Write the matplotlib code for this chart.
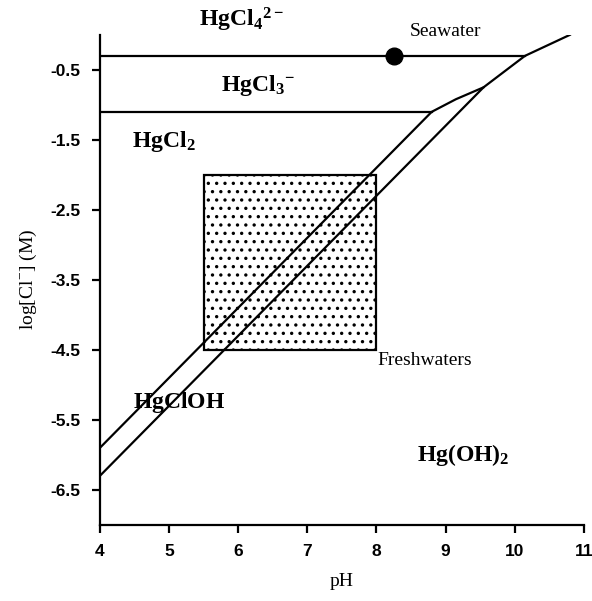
import matplotlib
matplotlib.use('Agg')
import matplotlib.pyplot as plt
from matplotlib.patches import Rectangle

plt.rcParams['font.family'] = 'Liberation Serif'
plt.rcParams['mathtext.fontset'] = 'custom'
plt.rcParams['mathtext.rm'] = 'Liberation Serif'
plt.rcParams['mathtext.bf'] = 'Liberation Serif:bold'
plt.rcParams['hatch.linewidth'] = 1.2

# Phase boundaries (pH, log[Cl-])
hgcl4_hgcl3_x = [4.0, 10.15]
hgcl4_hgcl3_y = [-0.3, -0.3]
hgcl3_hgcl2_x = [4.0, 8.8]
hgcl3_hgcl2_y = [-1.1, -1.1]
hgcl2_hgcloh_x = [4.0, 8.8, 9.15, 9.55]
hgcl2_hgcloh_y = [-5.9, -1.1, -0.92, -0.75]
hgcloh_hgoh2_x = [4.0, 9.55, 10.15, 10.8]
hgcloh_hgoh2_y = [-6.3, -0.75, -0.3, 0.0]

# Freshwater range box and seawater point
fresh_ph = [5.5, 8.0]
fresh_cl = [-4.5, -2.0]
sea_ph = 8.25
sea_cl = -0.3

# Species labels
species = [r'$\mathbf{HgCl_4{}^{2-}}$', r'$\mathbf{HgCl_3{}^{-}}$', r'$\mathbf{HgCl_2}$',
           r'$\mathbf{HgClOH}$', r'$\mathbf{Hg(OH)_2}$']
species_x = [6.05, 6.28, 4.92, 5.15, 9.25]
species_y = [0.22, -0.72, -1.52, -5.25, -6.0]

xticks = [4, 5, 6, 7, 8, 9, 10, 11]
yticks = [-0.5, -1.5, -2.5, -3.5, -4.5, -5.5, -6.5]

fig = plt.figure(figsize=(5.92, 6.01), dpi=100)
ax = fig.add_axes([0.169, 0.127, 0.817, 0.815])

lw = 1.6
ax.plot(hgcl4_hgcl3_x, hgcl4_hgcl3_y, color='black', lw=lw)
ax.plot(hgcl3_hgcl2_x, hgcl3_hgcl2_y, color='black', lw=lw)
ax.plot(hgcl2_hgcloh_x, hgcl2_hgcloh_y, color='black', lw=lw)
ax.plot(hgcloh_hgoh2_x, hgcloh_hgoh2_y, color='black', lw=lw)

# Freshwater box with dot pattern
ax.add_patch(Rectangle((fresh_ph[0], fresh_cl[0]), fresh_ph[1] - fresh_ph[0],
                       fresh_cl[1] - fresh_cl[0], facecolor='white',
                       edgecolor='black', hatch='..', lw=lw, zorder=0))

ax.plot(sea_ph, sea_cl, 'o', color='black', markersize=12, zorder=5)
ax.text(9.0, 0.05, 'Seawater', fontsize=14, ha='center', va='center')
ax.text(8.02, -4.66, 'Freshwaters', fontsize=14, ha='left', va='center')

for label, x, y in zip(species, species_x, species_y):
    ax.text(x, y, label, fontsize=17, ha='center', va='center', clip_on=False)

ax.set_xlim(4, 11)
ax.set_ylim(-7, 0)
ax.set_xticks(xticks)
ax.set_yticks(yticks)
ax.set_xticklabels([str(t) for t in xticks], fontfamily='Liberation Sans',
                   fontweight='bold', fontsize=12.5)
ax.set_yticklabels([str(t) for t in yticks], fontfamily='Liberation Sans',
                   fontweight='bold', fontsize=12.5)
ax.tick_params(direction='out', length=6, width=1.6, pad=8)

for side in ['top', 'right']:
    ax.spines[side].set_visible(False)
for side in ['left', 'bottom']:
    ax.spines[side].set_linewidth(1.6)

ax.set_xlabel('pH', fontsize=14, labelpad=10)
ax.set_ylabel(r'log[Cl$^{-}$] (M)', fontsize=14, labelpad=8)

plt.savefig('out.png', dpi=100)
